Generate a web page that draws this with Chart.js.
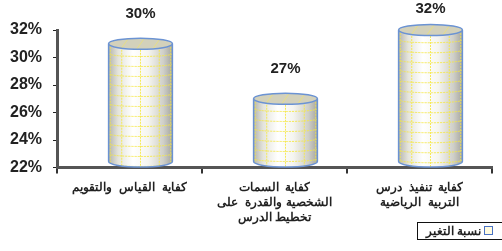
<!DOCTYPE html>
<html lang="ar">
<head>
    <meta charset="UTF-8">
    <title>نسبة التغير</title>
    <script src="https://cdn.jsdelivr.net/npm/chart.js"></script>
    <style>
        html, body {
            margin: 0;
            padding: 0;
            background: #fff;
            overflow: hidden;
        }
        .wrap {
            position: relative;
            width: 502px;
            height: 251px;
        }
        .legend-box {
            position: absolute;
            left: 417px;
            top: 222px;
            width: 120px;
            height: 16px;
            border: 1.5px solid #111;
            overflow: hidden;
            font-family: 'Liberation Sans', Arial, sans-serif;
            font-weight: bold;
            font-size: 12px;
            color: #222;
        }
        .legend-box .txt {
            position: absolute;
            right: 57px;
            top: 0px;
            white-space: nowrap;
            direction: rtl;
            line-height: 16px;
        }
        .legend-box .mark {
            position: absolute;
            left: 66px;
            top: 3px;
            width: 7px;
            height: 7px;
            border: 1.5px solid #4a72c4;
            background: #fffbe0;
        }
    </style>
</head>
<body>
    <div class="wrap">
        <canvas id="chart" width="502" height="251"></canvas>
        <div class="legend-box"><span class="txt" id="legendText"></span><span class="mark"></span></div>
    </div>

    <script>
        // data
        const seriesName = 'نسبة التغير';
        const categories = [
            'كفاية  القياس  والتقويم',
            ['كفاية  السمات', 'الشخصية والقدرة  على', 'تخطيط الدرس'],
            ['كفاية  تنفيذ  درس', 'التربية  الرياضية']
        ];
        const changeRate = [31, 27, 32];
        const valueLabels = ['30%', '27%', '32%'];
        const yTicks = [22, 24, 26, 28, 30, 32];

        const FONT = "'Liberation Sans', Arial, sans-serif";

        document.getElementById('legendText').textContent = seriesName;

        // cylinder drawing on top of the (invisible) bars
        const cylinders = {
            id: 'cylinders',
            afterDatasetsDraw(chart) {
                const ctx = chart.ctx;
                const meta = chart.getDatasetMeta(0);
                const depth = 11;
                const ry = 5.5;
                meta.data.forEach((bar, i) => {
                    const cx = bar.x + depth;
                    const rx = bar.width / 2;
                    const left = cx - rx;
                    const right = cx + rx;
                    const top = bar.y;
                    const bottom = bar.base - ry;

                    const bodyPath = () => {
                        ctx.beginPath();
                        ctx.moveTo(left, top);
                        ctx.lineTo(left, bottom);
                        ctx.ellipse(cx, bottom, rx, ry, 0, Math.PI, 0, true);
                        ctx.lineTo(right, top);
                    };
                    const topPath = () => {
                        ctx.beginPath();
                        ctx.ellipse(cx, top, rx, ry, 0, 0, Math.PI * 2);
                    };

                    ctx.save();
                    // body
                    const g = ctx.createLinearGradient(left, 0, right, 0);
                    g.addColorStop(0, '#b4b4ad');
                    g.addColorStop(0.15, '#e4e4dc');
                    g.addColorStop(0.38, '#ffffff');
                    g.addColorStop(0.62, '#f5f5f0');
                    g.addColorStop(0.86, '#cfcfc8');
                    g.addColorStop(1, '#a6a69f');
                    bodyPath();
                    ctx.closePath();
                    ctx.fillStyle = g;
                    ctx.fill();

                    // yellow grid on the body
                    ctx.save();
                    ctx.clip();
                    ctx.strokeStyle = 'rgba(245, 232, 70, 0.9)';
                    ctx.lineWidth = 1;
                    ctx.setLineDash([2, 1]);
                    for (let y = top + 10; y < bar.base; y += 10) {
                        ctx.beginPath();
                        ctx.ellipse(cx, y, rx, ry * 0.5, 0, 0, Math.PI);
                        ctx.stroke();
                    }
                    [0.1, 0.3, 0.5, 0.7, 0.9].forEach(f => {
                        const vx = cx + rx * Math.cos(Math.PI * (1 - f));
                        ctx.beginPath();
                        ctx.moveTo(vx, top);
                        ctx.lineTo(vx, bar.base);
                        ctx.stroke();
                    });
                    ctx.restore();

                    // outline of body
                    ctx.strokeStyle = '#6b93d3';
                    ctx.lineWidth = 1.5;
                    bodyPath();
                    ctx.stroke();

                    // top ellipse
                    topPath();
                    ctx.fillStyle = '#d3d1bb';
                    ctx.fill();
                    ctx.save();
                    ctx.clip();
                    ctx.strokeStyle = 'rgba(240, 228, 110, 0.7)';
                    ctx.lineWidth = 1;
                    [-0.5, 0, 0.5].forEach(f => {
                        ctx.beginPath();
                        ctx.moveTo(cx + f * rx - 4, top + ry);
                        ctx.lineTo(cx + f * rx + 4, top - ry);
                        ctx.stroke();
                    });
                    ctx.restore();
                    ctx.strokeStyle = '#6b93d3';
                    ctx.lineWidth = 1.5;
                    topPath();
                    ctx.stroke();

                    // value label
                    ctx.fillStyle = '#222';
                    ctx.font = 'bold 15px ' + FONT;
                    ctx.textAlign = 'center';
                    ctx.textBaseline = 'alphabetic';
                    ctx.fillText(valueLabels[i], cx, Math.max(13, top - 26));
                    ctx.restore();
                });
            }
        };

        new Chart(document.getElementById('chart'), {
            type: 'bar',
            data: {
                labels: categories,
                datasets: [{
                    label: seriesName,
                    data: changeRate,
                    base: 22,
                    backgroundColor: 'rgba(0,0,0,0)',
                    borderWidth: 0,
                    barPercentage: 0.44,
                    categoryPercentage: 1
                }]
            },
            options: {
                responsive: false,
                animation: false,
                layout: {
                    padding: { top: 30, right: 10, left: 0, bottom: 0 }
                },
                plugins: {
                    legend: { display: false },
                    tooltip: { enabled: false }
                },
                scales: {
                    y: {
                        min: 22,
                        max: 32,
                        afterFit(scale) { scale.width = 57; },
                        afterBuildTicks(scale) {
                            scale.ticks = yTicks.map(v => ({ value: v }));
                        },
                        border: { color: '#555', width: 3 },
                        grid: {
                            drawOnChartArea: false,
                            tickLength: 4,
                            color: '#222',
                            lineWidth: 1
                        },
                        ticks: {
                            padding: 11,
                            color: '#222',
                            font: { family: FONT, size: 16, weight: 'bold' },
                            callback: v => v + '%'
                        }
                    },
                    x: {
                        afterFit(scale) { scale.height = 83.5; },
                        border: { color: '#555', width: 3 },
                        grid: {
                            offset: true,
                            drawOnChartArea: false,
                            tickLength: 6,
                            color: '#333',
                            lineWidth: 2
                        },
                        ticks: {
                            padding: 7,
                            color: '#222',
                            maxRotation: 0,
                            font: { family: FONT, size: 12, weight: 'bold', lineHeight: '15px' }
                        }
                    }
                }
            },
            plugins: [cylinders]
        });
    </script>
</body>
</html>
